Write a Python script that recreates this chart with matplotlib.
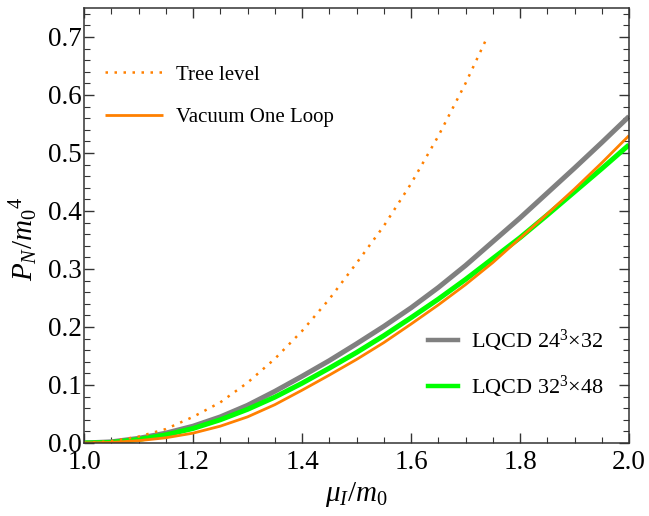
import matplotlib
matplotlib.use("Agg")
import matplotlib.pyplot as plt
from matplotlib.ticker import MultipleLocator, FormatStrFormatter

plt.rcParams['font.family'] = ['Liberation Serif', 'DejaVu Serif']
plt.rcParams['mathtext.fontset'] = 'custom'
plt.rcParams['mathtext.rm'] = 'Liberation Serif'
plt.rcParams['mathtext.it'] = 'Liberation Serif:italic'

# -------- DATA --------
mu = [1.00, 1.05, 1.10, 1.15, 1.20, 1.25, 1.30, 1.35, 1.40, 1.45, 1.50,
      1.55, 1.60, 1.65, 1.70, 1.75, 1.80, 1.85, 1.90, 1.95, 2.00]

p_lqcd24 = [0.000, 0.002, 0.008, 0.017, 0.029, 0.045, 0.065, 0.089, 0.115, 0.142, 0.171,
            0.201, 0.233, 0.268, 0.306, 0.347, 0.388, 0.431, 0.474, 0.518, 0.563]
p_lqcd32 = [0.000, 0.001, 0.006, 0.014, 0.025, 0.040, 0.058, 0.079, 0.103, 0.129, 0.156,
            0.185, 0.216, 0.248, 0.282, 0.318, 0.354, 0.393, 0.433, 0.473, 0.514]
p_oneloop = [0.000, 0.001, 0.004, 0.009, 0.017, 0.029, 0.045, 0.066, 0.091, 0.117, 0.144,
             0.173, 0.205, 0.238, 0.273, 0.311, 0.353, 0.395, 0.438, 0.483, 0.530]

mu_tree = [1.00, 1.05, 1.10, 1.15, 1.20, 1.25, 1.30, 1.35, 1.40, 1.45, 1.50,
           1.55, 1.60, 1.65, 1.70, 1.74]
p_tree = [0.000, 0.003, 0.011, 0.024, 0.045, 0.070, 0.104, 0.145, 0.193, 0.248, 0.310,
          0.374, 0.447, 0.529, 0.620, 0.700]

orange = (1.0, 0.5, 0.0)
gray = '#808080'
green = '#00ff00'
# -------- DATA. --------

fig = plt.figure(figsize=(6.49, 5.16), dpi=100)
ax = fig.add_axes([84 / 649, 1 - 443 / 516, 545 / 649, 435 / 516])

l24, = ax.plot(mu, p_lqcd24, color=gray, lw=3.6, solid_capstyle='butt')
l32, = ax.plot(mu, p_lqcd32, color=green, lw=3.6, solid_capstyle='butt')
lone, = ax.plot(mu, p_oneloop, color=orange, lw=2.0, solid_capstyle='butt')
ltree, = ax.plot(mu_tree, p_tree, color=orange, lw=1.8, linestyle=(0, (1, 2.6)))

ax.set_xlim(1.0, 2.0)
ax.set_ylim(0.0, 0.75)

# ---- Mathematica style frame ticks
ax.xaxis.set_major_locator(MultipleLocator(0.2))
ax.xaxis.set_minor_locator(MultipleLocator(0.05))
ax.yaxis.set_major_locator(MultipleLocator(0.1))
ax.yaxis.set_minor_locator(MultipleLocator(0.02))
ax.xaxis.set_major_formatter(FormatStrFormatter('%.1f'))
ax.yaxis.set_major_formatter(FormatStrFormatter('%.1f'))
ax.tick_params(which='both', direction='in', top=True, right=True, color='#333333')
ax.tick_params(which='major', length=7, width=1.0, labelsize=19.5)
ax.tick_params(axis='y', which='major', pad=1.5)
ax.tick_params(axis='x', which='major', pad=5)
ax.tick_params(which='minor', length=4, width=0.8)
for s in ax.spines.values():
    s.set_linewidth(1.1)
    s.set_color('#333333')

ax.set_xlabel(r'$\mu_I/m_0$', fontsize=21)
ax.xaxis.set_label_coords(0.5, -0.085)
ax.set_ylabel(r'$P_N/{m_0}^4$', fontsize=21)
ax.yaxis.set_label_coords(-0.08, 0.47)

# ---- Legends
leg1 = ax.legend([ltree, lone], ['Tree level', 'Vacuum One Loop'], loc='upper left',
                 bbox_to_anchor=(105 / 649, 1 - 65 / 516), bbox_transform=fig.transFigure,
                 frameon=False, fontsize=15, borderpad=0, borderaxespad=0,
                 handlelength=2.8, handletextpad=0.6, labelspacing=1.1)
ax.add_artist(leg1)

h24, = ax.plot([], [], color=gray, lw=3.2)
h32, = ax.plot([], [], color=green, lw=3.2)
ax.legend([h24, h32], ['LQCD 24$^3$\u00d732', 'LQCD 32$^3$\u00d748'], loc='upper left',
          bbox_to_anchor=(428 / 649, 1 - 328 / 516), bbox_transform=fig.transFigure,
          frameon=False, fontsize=16, borderpad=0, borderaxespad=0,
          handlelength=1.35, handletextpad=0.6, labelspacing=0.9)

fig.savefig('out.png', dpi=100)
